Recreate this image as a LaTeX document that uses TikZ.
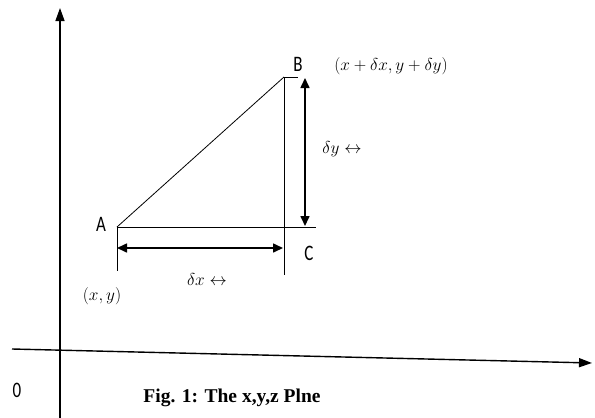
\documentclass[tikz,border=0pt]{standalone}
\usepackage{amsmath,amssymb}
\usepackage{fontspec}
\newfontfamily\lblfont{Carlito}
\newfontfamily\capfont{Liberation Serif}
\usetikzlibrary{arrows.meta}

\tikzset{
  axis/.style={line width=1.4pt, -{Triangle[length=13pt,width=9pt]}},
  span/.style={line width=1.6pt, {Triangle[length=10pt,width=9pt]}-{Triangle[length=10pt,width=9pt]}},
  edge/.style={line width=0.8pt},
  ptlabel/.style={font=\lblfont\fontsize{17}{20}\selectfont},
  mathlabel/.style={font=\fontsize{17.5}{20}\selectfont}
}

\begin{document}
\begin{tikzpicture}[x=1pt,y=-1pt]
\useasboundingbox (0,0) rectangle (595,418);
% axes
\coordinate (ybot) at (60,418);
\coordinate (ytop) at (60,8);
\coordinate (xleft) at (12,349);
\coordinate (xright) at (592,363);
\draw[axis] (ybot) -- (ytop);
\draw[axis] (xleft) -- (xright);
\node[ptlabel] (zero) at (17,390) {\scalebox{1}[1.3]{0}};

% triangle
\coordinate (a) at (117,227);
\coordinate (b) at (284,77);
\coordinate (c) at (284,227);
\coordinate (bend) at (298,77);
\coordinate (cend) at (316,227);
\coordinate (adown) at (117,271);
\coordinate (cdown) at (284,275);
\draw[edge] (a) -- (b);
\draw[edge] (b) -- (bend);
\draw[edge] (a) -- (cend);
\draw[edge] (a) -- (adown);
\draw[edge] (b) -- (cdown);

% spans
\coordinate (dxl) at (117,248);
\coordinate (dxr) at (283,248);
\coordinate (dyt) at (305,78);
\coordinate (dyb) at (305,226);
\draw[span] (dxl) -- (dxr);
\draw[span] (dyt) -- (dyb);

% labels
\node[ptlabel] (la) at (101,224) {\scalebox{1}[1.3]{A}};
\node[ptlabel] (lb) at (298,64) {\scalebox{1}[1.3]{B}};
\node[ptlabel] (lc) at (309,253) {\scalebox{1}[1.3]{C}};
\node[mathlabel] (lxy) at (102,296) {$(x,y)$};
\node[mathlabel] (lbxy) at (391,66) {$(x+\delta x,y+\delta y)$};
\node[mathlabel] (ldx) at (207,279) {$\delta x \leftrightarrow$};
\node[mathlabel] (ldy) at (342,149) {$\delta y \leftrightarrow$};
\node[font=\capfont\bfseries\fontsize{19.5}{22}\selectfont] (cap) at (232,398) {Fig. 1: The x,y,z Plne};
\end{tikzpicture}
\end{document}
